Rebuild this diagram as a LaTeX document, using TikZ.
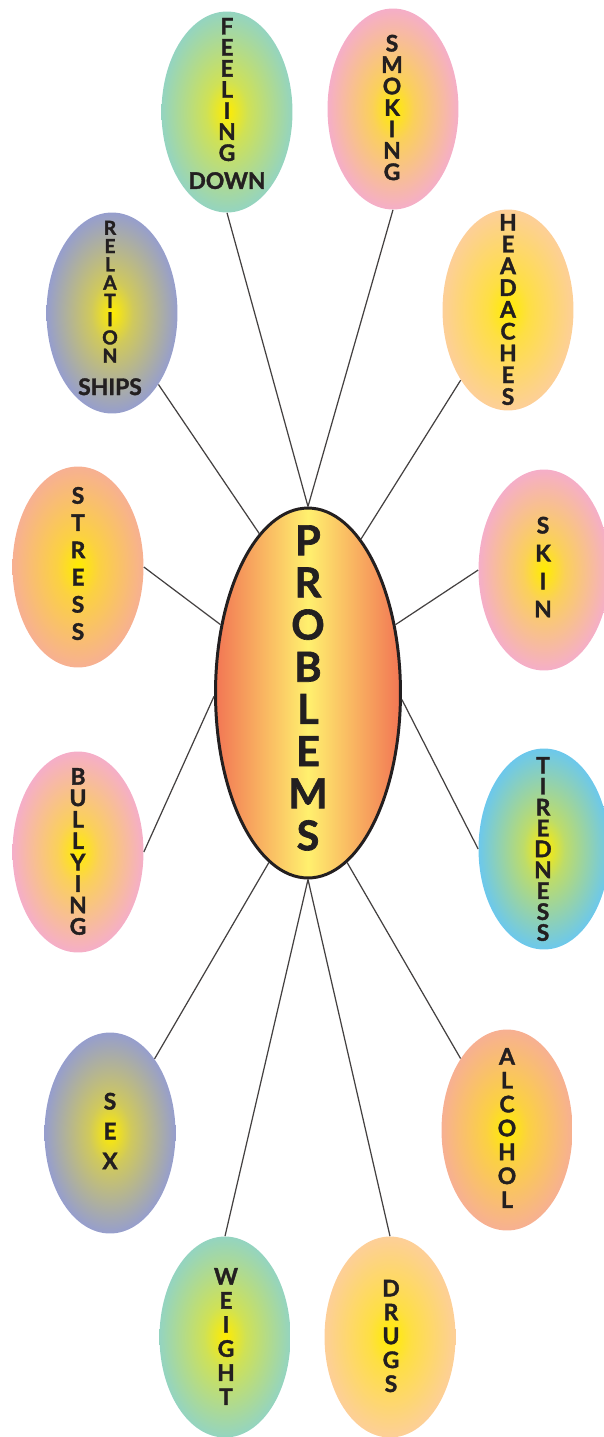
\documentclass[tikz,border=0pt]{standalone}
\usepackage{fontspec}
\setmainfont{Lato}[BoldFeatures={FakeBold=1.6}]
\usepackage{tikz}
\usetikzlibrary{shapes.geometric}
\definecolor{inkblack}{RGB}{35,31,32}
\definecolor{sunyellow}{RGB}{255,236,0}
\definecolor{mintgreen}{RGB}{148,212,192}
\definecolor{candypink}{RGB}{245,174,200}
\definecolor{lavenderblue}{RGB}{150,158,205}
\definecolor{apricot}{RGB}{253,207,152}
\definecolor{salmonpink}{RGB}{247,176,146}
\definecolor{skyblue}{RGB}{108,200,236}
\definecolor{flameorange}{RGB}{242,118,84}
\definecolor{butteryellow}{RGB}{255,240,110}
\colorlet{rim}{mintgreen}
\pgfdeclareradialshading[rim]{glow}{\pgfpoint{0bp}{0bp}}{%
  color(0bp)=(sunyellow); color(8bp)=(sunyellow!55!rim);
  color(25bp)=(rim); color(50bp)=(rim)}
\tikzset{
  balloon/.style={
    ellipse,
    minimum width=2.62cm,
    minimum height=4.02cm,
    inner sep=0pt,
    /utils/exec={\colorlet{rim}{#1}},
    shading=glow
  },
  hub/.style={
    ellipse,
    draw=inkblack,
    line width=1.7pt,
    minimum width=3.7cm,
    minimum height=7.4cm,
    inner sep=0pt,
    left color=flameorange,
    right color=flameorange,
    middle color=butteryellow
  },
  word/.style={
    align=center,
    text=inkblack,
    inner sep=0pt,
    font=\bfseries\fontsize{13}{#1}\selectfont
  },
  spoke/.style={
    draw=inkblack!85,
    line width=0.7pt
  }
}

\begin{document}
\begin{tikzpicture}[x=0.02cm,y=-0.02cm]
\useasboundingbox (0,0) rectangle (603,1437);
\node[balloon=mintgreen] (feel) at (227,112) {};
\node[balloon=candypink] (smok) at (393,109) {};
\node[balloon=lavenderblue] (rel) at (112,313) {};
\node[balloon=apricot] (head) at (508,310) {};
\node[balloon=salmonpink] (stress) at (78,567) {};
\node[balloon=candypink] (skin) at (544,570) {};
\node[balloon=candypink] (bully) at (78,852) {};
\node[balloon=skyblue] (tired) at (544,849) {};
\node[balloon=lavenderblue] (sex) at (110,1133) {};
\node[balloon=salmonpink] (alc) at (507,1130) {};
\node[balloon=mintgreen] (weight) at (225,1337) {};
\node[balloon=apricot] (drugs) at (390,1337) {};
\node[hub] (prob) at (308,693) {};

\node[word=12] (feel-t) at (227,103.5) {F\\E\\E\\L\\I\\N\\G\\[3.9pt]DOWN};
\node[word=12.2] (smok-t) at (392,107.5) {S\\M\\O\\K\\I\\N\\G};
\node[word=10.4,font=\bfseries\fontsize{11}{10.4}\selectfont] (rel-t) at (110,308) {R\\E\\L\\A\\T\\I\\O\\N\\[8pt]{\fontsize{13}{12}\selectfont SHIPS}};
\node[word=12.4] (head-t) at (508,309.5) {H\\E\\A\\D\\A\\C\\H\\E\\S};
\node[word=15.5] (stress-t) at (78,563.5) {S\\T\\R\\E\\S\\S};
\node[word=15.9] (skin-t) at (543,567) {S\\K\\I\\N};
\node[word=12.2] (bully-t) at (78,851.5) {B\\U\\L\\L\\Y\\I\\N\\G};
\node[word=11.9] (tired-t) at (543,849) {T\\I\\R\\E\\D\\N\\E\\S\\S};
\node[word=17] (sex-t) at (110,1131) {S\\E\\X};
\node[word=13.6] (alc-t) at (507,1128) {A\\L\\C\\O\\H\\O\\L};
\node[word=13.7] (weight-t) at (226,1336.5) {W\\E\\I\\G\\H\\T};
\node[word=13.6] (drugs-t) at (391,1336) {D\\R\\U\\G\\S};
\node[word=24,font=\bfseries\fontsize{23.5}{24}\selectfont] (prob-t) at (308,688) {P\\R\\O\\B\\L\\E\\M\\S};

\draw[spoke] (feel.south) -- (prob.north);
\draw[spoke] (smok.south) -- (prob.north);
\draw[spoke] (rel.-57) -- (prob.107);
\draw[spoke] (head.-124) -- (prob.71);
\draw[spoke] (stress.east) -- (prob.142);
\draw[spoke] (skin.west) -- (prob.38);
\draw[spoke] (bully.east) -- (prob.182);
\draw[spoke] (tired.west) -- (prob.-4);
\draw[spoke] (sex.59) -- (prob.257);
\draw[spoke] (alc.123) -- (prob.283);
\draw[spoke] (weight.north) -- (prob.south);
\draw[spoke] (drugs.north) -- (prob.south);
\end{tikzpicture}
\end{document}
